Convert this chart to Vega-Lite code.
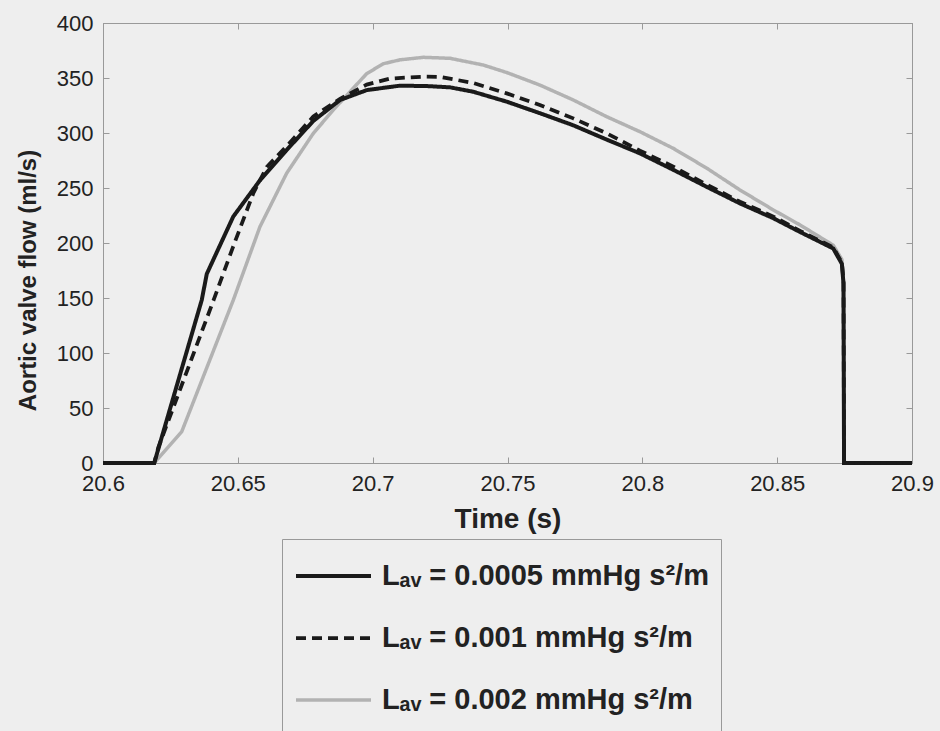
{
  "$schema": "https://vega.github.io/schema/vega-lite/v6.json",
  "width": 809,
  "height": 440,
  "autosize": "none",
  "padding": {"left": 103, "top": 23, "right": 28, "bottom": 268},
  "background": "#eeeeee",
  "config": {
    "view": {"stroke": "#999999", "strokeWidth": 1},
    "font": "Liberation Sans",
    "axis": {
      "grid": false,
      "domainColor": "#999999",
      "tickColor": "#999999",
      "tickSize": -6,
      "labelColor": "#222222",
      "titleColor": "#222222",
      "labelFont": "Liberation Sans",
      "titleFont": "Liberation Sans",
      "labelFontSize": 22,
      "labelOverlap": false,
      "labelFlush": false
    }
  },
  "data": {
    "values": [
      {"t": 20.6, "flow": 0, "series": "0.0005"},
      {"t": 20.619, "flow": 0, "series": "0.0005"},
      {"t": 20.6366, "flow": 148, "series": "0.0005"},
      {"t": 20.6385, "flow": 172, "series": "0.0005"},
      {"t": 20.6483, "flow": 224, "series": "0.0005"},
      {"t": 20.6582, "flow": 257, "series": "0.0005"},
      {"t": 20.6681, "flow": 284.5, "series": "0.0005"},
      {"t": 20.678, "flow": 311, "series": "0.0005"},
      {"t": 20.6879, "flow": 330, "series": "0.0005"},
      {"t": 20.6978, "flow": 339, "series": "0.0005"},
      {"t": 20.71, "flow": 343, "series": "0.0005"},
      {"t": 20.72, "flow": 342.7, "series": "0.0005"},
      {"t": 20.7287, "flow": 341.5, "series": "0.0005"},
      {"t": 20.7373, "flow": 337.5, "series": "0.0005"},
      {"t": 20.7497, "flow": 328.5, "series": "0.0005"},
      {"t": 20.762, "flow": 318, "series": "0.0005"},
      {"t": 20.7744, "flow": 307, "series": "0.0005"},
      {"t": 20.7868, "flow": 294, "series": "0.0005"},
      {"t": 20.7991, "flow": 281.5, "series": "0.0005"},
      {"t": 20.8115, "flow": 266.5, "series": "0.0005"},
      {"t": 20.8239, "flow": 251, "series": "0.0005"},
      {"t": 20.8362, "flow": 236, "series": "0.0005"},
      {"t": 20.8486, "flow": 222.5, "series": "0.0005"},
      {"t": 20.8585, "flow": 210, "series": "0.0005"},
      {"t": 20.8708, "flow": 195, "series": "0.0005"},
      {"t": 20.874, "flow": 181, "series": "0.0005"},
      {"t": 20.8746, "flow": 163, "series": "0.0005"},
      {"t": 20.8748, "flow": 0, "series": "0.0005"},
      {"t": 20.9, "flow": 0, "series": "0.0005"},

      {"t": 20.6, "flow": 0, "series": "0.001"},
      {"t": 20.619, "flow": 0, "series": "0.001"},
      {"t": 20.6205, "flow": 14, "series": "0.001"},
      {"t": 20.641, "flow": 148, "series": "0.001"},
      {"t": 20.6483, "flow": 197, "series": "0.001"},
      {"t": 20.6557, "flow": 245, "series": "0.001"},
      {"t": 20.6607, "flow": 269, "series": "0.001"},
      {"t": 20.6681, "flow": 288, "series": "0.001"},
      {"t": 20.678, "flow": 315, "series": "0.001"},
      {"t": 20.6879, "flow": 331, "series": "0.001"},
      {"t": 20.6978, "flow": 344, "series": "0.001"},
      {"t": 20.7064, "flow": 349.5, "series": "0.001"},
      {"t": 20.7188, "flow": 351.2, "series": "0.001"},
      {"t": 20.725, "flow": 351, "series": "0.001"},
      {"t": 20.7373, "flow": 345.5, "series": "0.001"},
      {"t": 20.7497, "flow": 336, "series": "0.001"},
      {"t": 20.762, "flow": 325.5, "series": "0.001"},
      {"t": 20.7744, "flow": 313.3, "series": "0.001"},
      {"t": 20.7868, "flow": 299.7, "series": "0.001"},
      {"t": 20.7991, "flow": 284, "series": "0.001"},
      {"t": 20.8115, "flow": 269.4, "series": "0.001"},
      {"t": 20.8239, "flow": 253, "series": "0.001"},
      {"t": 20.8362, "flow": 237.5, "series": "0.001"},
      {"t": 20.8486, "flow": 224, "series": "0.001"},
      {"t": 20.8585, "flow": 211, "series": "0.001"},
      {"t": 20.8708, "flow": 196, "series": "0.001"},
      {"t": 20.874, "flow": 182, "series": "0.001"},
      {"t": 20.8746, "flow": 165, "series": "0.001"},
      {"t": 20.8748, "flow": 0, "series": "0.001"},
      {"t": 20.9, "flow": 0, "series": "0.001"},

      {"t": 20.6, "flow": 0, "series": "0.002"},
      {"t": 20.619, "flow": 0, "series": "0.002"},
      {"t": 20.6292, "flow": 28.5, "series": "0.002"},
      {"t": 20.6459, "flow": 133, "series": "0.002"},
      {"t": 20.6483, "flow": 148, "series": "0.002"},
      {"t": 20.6582, "flow": 214.8, "series": "0.002"},
      {"t": 20.6681, "flow": 263.4, "series": "0.002"},
      {"t": 20.678, "flow": 299.7, "series": "0.002"},
      {"t": 20.6854, "flow": 321, "series": "0.002"},
      {"t": 20.6978, "flow": 354, "series": "0.002"},
      {"t": 20.704, "flow": 363, "series": "0.002"},
      {"t": 20.7101, "flow": 366.5, "series": "0.002"},
      {"t": 20.7188, "flow": 368.8, "series": "0.002"},
      {"t": 20.7287, "flow": 367.9, "series": "0.002"},
      {"t": 20.741, "flow": 361.8, "series": "0.002"},
      {"t": 20.7497, "flow": 355, "series": "0.002"},
      {"t": 20.762, "flow": 343.6, "series": "0.002"},
      {"t": 20.7744, "flow": 330, "series": "0.002"},
      {"t": 20.7868, "flow": 314.8, "series": "0.002"},
      {"t": 20.7991, "flow": 301.2, "series": "0.002"},
      {"t": 20.8115, "flow": 286, "series": "0.002"},
      {"t": 20.8239, "flow": 268, "series": "0.002"},
      {"t": 20.8362, "flow": 248.2, "series": "0.002"},
      {"t": 20.8486, "flow": 230, "series": "0.002"},
      {"t": 20.8585, "flow": 216.4, "series": "0.002"},
      {"t": 20.8708, "flow": 198, "series": "0.002"},
      {"t": 20.874, "flow": 185, "series": "0.002"},
      {"t": 20.8746, "flow": 165, "series": "0.002"},
      {"t": 20.8748, "flow": 0, "series": "0.002"},
      {"t": 20.9, "flow": 0, "series": "0.002"}
    ]
  },
  "encoding": {
    "color": {
      "field": "series",
      "type": "nominal",
      "scale": {"domain": ["0.0005", "0.001", "0.002"], "range": ["#1a1a1a", "#1a1a1a", "#b2b2b2"]},
      "legend": {
        "orient": "none",
        "legendX": 179,
        "legendY": 516,
        "title": null,
        "symbolType": "stroke",
        "symbolSize": 5625,
        "clipHeight": 50,
        "rowPadding": 12,
        "padding": 12,
        "labelOffset": 9,
        "labelFont": "Liberation Sans",
        "labelFontSize": 29,
        "labelFontWeight": "bold",
        "labelColor": "#222222",
        "labelLimit": 0,
        "strokeColor": "#999999",
        "fillColor": "#eeeeee",
        "labelExpr": "'Lₐᵥ = ' + datum.label + ' mmHg s²/m'",
        "encode": {
          "symbols": {
            "update": {"strokeWidth": {"signal": "datum.value === '0.002' ? 1 : 3"}}
          }
        }
      }
    },
    "strokeDash": {
      "field": "series",
      "type": "nominal",
      "scale": {"domain": ["0.0005", "0.001", "0.002"], "range": [[1, 0], [10, 6], [1, 0]]},
      "legend": {
        "orient": "none",
        "legendX": 179,
        "legendY": 516,
        "title": null,
        "symbolType": "stroke",
        "symbolSize": 5625,
        "encode": {
          "symbols": {
            "update": {"strokeWidth": {"signal": "datum.value === '0.002' ? 1 : 3"}}
          }
        }
      }
    },
    "strokeWidth": {
      "field": "series",
      "type": "nominal",
      "scale": {"domain": ["0.0005", "0.001", "0.002"], "range": [4, 3.5, 1]},
      "legend": null
    }
  },
  "layer": [
    {
      "transform": [{"filter": "datum.series === '0.002'"}],
      "mark": {"type": "line"},
      "encoding": {
        "x": {
          "field": "t", "type": "quantitative",
          "scale": {"domain": [20.6, 20.9], "nice": false, "zero": false},
          "axis": {"orient": "top", "labels": false, "title": null, "values": [20.6, 20.65, 20.7, 20.75, 20.8, 20.85, 20.9]}
        },
        "y": {
          "field": "flow", "type": "quantitative",
          "scale": {"domain": [0, 400], "nice": false},
          "axis": {"orient": "right", "labels": false, "title": null, "values": [0, 50, 100, 150, 200, 250, 300, 350, 400]}
        }
      }
    },
    {
      "transform": [{"filter": "datum.series !== '0.002'"}],
      "mark": {"type": "line"},
      "encoding": {
        "x": {
          "field": "t", "type": "quantitative",
          "scale": {"domain": [20.6, 20.9], "nice": false, "zero": false},
          "axis": {
            "orient": "bottom",
            "values": [20.6, 20.65, 20.7, 20.75, 20.8, 20.85, 20.9],
            "format": ".4~g",
            "labelBaseline": "alphabetic",
            "labelPadding": 33,
            "title": "Time (s)",
            "titleFontSize": 28,
            "titleFontWeight": "bold",
            "titleBaseline": "alphabetic",
            "titleY": 64
          }
        },
        "y": {
          "field": "flow", "type": "quantitative",
          "scale": {"domain": [0, 400], "nice": false},
          "axis": {
            "orient": "left",
            "values": [0, 50, 100, 150, 200, 250, 300, 350, 400],
            "labelPadding": 16,
            "title": "Aortic valve flow (ml/s)",
            "titleFontSize": 24,
            "titleFontWeight": "bold",
            "titleBaseline": "alphabetic",
            "titleX": -68,
            "titleY": 257
          }
        }
      }
    }
  ],
  "resolve": {"axis": {"x": "independent", "y": "independent"}}
}
